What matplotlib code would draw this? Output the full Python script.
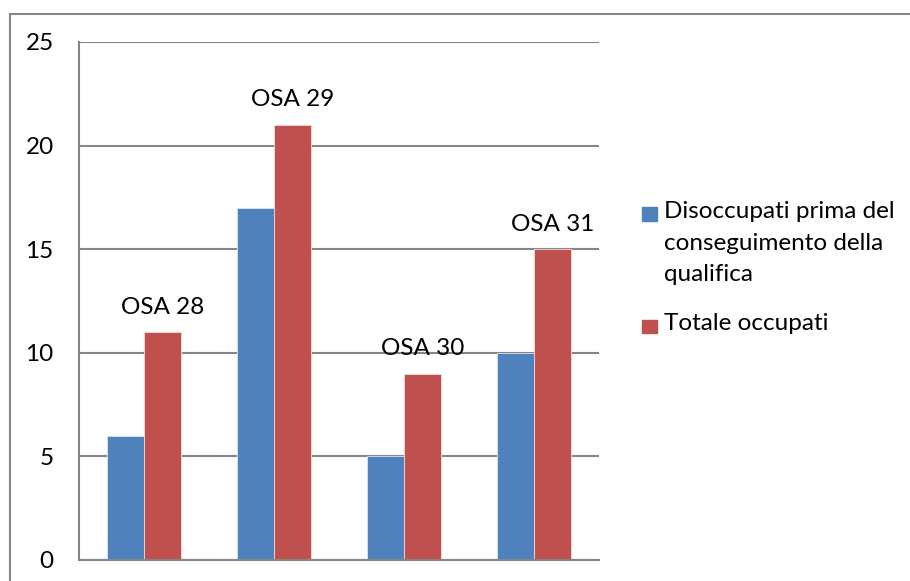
import matplotlib
matplotlib.use("Agg")
import matplotlib.pyplot as plt
import numpy as np
from matplotlib.lines import Line2D
from matplotlib.patches import Rectangle

categories = ["OSA 28", "OSA 29", "OSA 30", "OSA 31"]
disoccupati = [6, 17, 5, 10]
totale = [11, 21, 9, 15]
series_names = ["Disoccupati prima del\nconseguimento della\nqualifica", "Totale occupati"]
yticks = [0, 5, 10, 15, 20, 25]

BLUE = "#4F81BD"
RED = "#C0504D"
GRAY = "#868686"
FONT = "Lato"
FS = 17.5

W, H = 910, 581
fig = plt.figure(figsize=(W / 100, H / 100), dpi=100)
fig.patch.set_facecolor("white")

ax = fig.add_axes([78.7 / W, (H - 560) / H, 520 / W, (560 - 42) / H])
x = np.arange(len(categories))
bw = 0.285
ax.bar(x - bw / 2, disoccupati, width=bw, color=BLUE, edgecolor="#dce6f2", linewidth=0.6, zorder=3)
ax.bar(x + bw / 2, totale, width=bw, color=RED, edgecolor="#f2dcdb", linewidth=0.6, zorder=3)

for xi, v, lab in zip(x, totale, categories):
    ax.annotate(lab, (xi + bw / 2, v), xytext=(0, 18), textcoords="offset points",
                ha="center", va="center", fontsize=FS, family=FONT, color="black", zorder=5)

ax.set_xlim(-0.5, len(categories) - 0.5)
ax.set_ylim(0, 25)
ax.set_yticks(yticks)
ax.set_yticklabels([str(t) for t in yticks], fontsize=FS, family=FONT)
ax.set_xticks([])
ax.tick_params(axis="y", length=0, pad=18)
ax.grid(axis="y", color=GRAY, linewidth=1.5, zorder=0)
ax.set_axisbelow(True)
for s in ["top", "right"]:
    ax.spines[s].set_visible(False)
for s in ["left", "bottom"]:
    ax.spines[s].set_color(GRAY)
    ax.spines[s].set_linewidth(1.5)
    ax.spines[s].set_zorder(4)

# outer chart border (top and left visible)
fig.add_artist(Line2D([10 / W, 1.0], [(H - 13.5) / H] * 2, color=GRAY, linewidth=1.5, transform=fig.transFigure))
fig.add_artist(Line2D([10 / W] * 2, [(H - 13.5) / H, 0], color=GRAY, linewidth=1.5, transform=fig.transFigure))

# legend (drawn manually: swatch aligned with first text line, as in the reference)
leg_items = [(series_names[0], BLUE, 214, 201), (series_names[1], RED, 326.5, 313)]
for name, col, yc, ytop in leg_items:
    fig.add_artist(Rectangle((642 / W, (H - yc - 6.7) / H), 15 / W, 13.4 / H, color=col,
                             transform=fig.transFigure))
    fig.text(664 / W, (H - ytop) / H, name, fontsize=FS, family=FONT, va="top", ha="left",
             linespacing=1.63, transform=fig.transFigure)

fig.savefig("out.png", dpi=100, facecolor="white")
